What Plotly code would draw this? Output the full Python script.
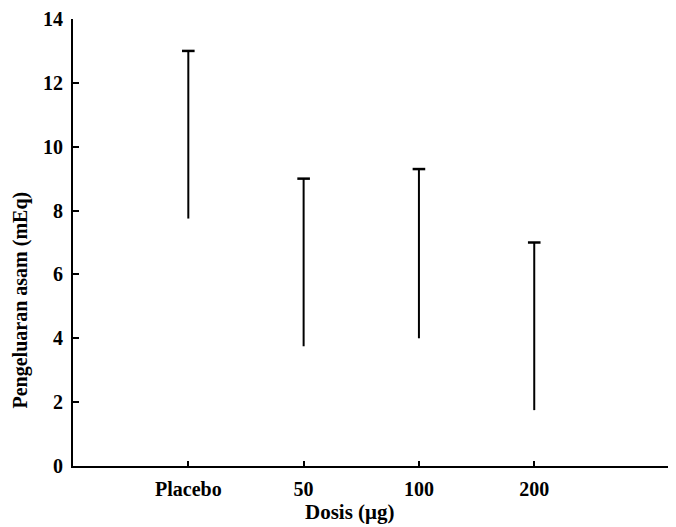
import plotly.graph_objects as go

categories = ["Placebo", "50", "100", "200"]
x_pos = [1, 2, 3, 4]
low_values = [7.75, 3.75, 4.0, 1.75]
high_values = [13.0, 9.0, 9.3, 7.0]
y_ticks = [0, 2, 4, 6, 8, 10, 12, 14]

FONT = "Liberation Serif"

line_x, line_y = [], []
for xp, lo, hi in zip(x_pos, low_values, high_values):
    line_x += [xp, xp, None]
    line_y += [lo, hi, None]

fig = go.Figure()
fig.add_trace(go.Scatter(x=line_x, y=line_y, mode="lines",
                         line=dict(color="black", width=2),
                         showlegend=False, hoverinfo="skip"))
fig.add_trace(go.Scatter(x=x_pos, y=high_values, mode="markers",
                         marker=dict(symbol="line-ew", size=9,
                                     line=dict(color="black", width=2.5)),
                         showlegend=False))

fig.update_layout(
    width=676, height=527,
    margin=dict(l=73, r=8, t=15, b=61),
    paper_bgcolor="white", plot_bgcolor="white",
    font=dict(family=FONT, size=20, color="black", weight="bold"),
    xaxis=dict(range=[0, 5.16], tickvals=x_pos, ticktext=categories,
               showgrid=False, zeroline=False, showline=True,
               linecolor="black", linewidth=2, ticks="inside",
               ticklen=5, tickwidth=1.5, tickcolor="black",
               ticklabelstandoff=4),
    yaxis=dict(range=[0, 14], tickvals=y_ticks,
               showgrid=False, zeroline=False, showline=True,
               linecolor="black", linewidth=2, ticks="inside",
               ticklen=6, tickwidth=1.5, tickcolor="black",
               ticklabelstandoff=4),
    annotations=[
        dict(text="Dosis (μg)", xref="paper", yref="paper",
             x=(350 - 73) / 595, y=-(512 - 466) / 451,
             xanchor="center", yanchor="middle", showarrow=False,
             font=dict(family=FONT, size=21, weight="bold")),
        dict(text="Pengeluaran asam (mEq)", xref="paper", yref="paper",
             x=-(73 - 20) / 595, y=(466 - 299) / 451, textangle=-90,
             xanchor="center", yanchor="middle", showarrow=False,
             font=dict(family=FONT, size=20, weight="bold")),
    ],
)

fig.write_html("out.html")
